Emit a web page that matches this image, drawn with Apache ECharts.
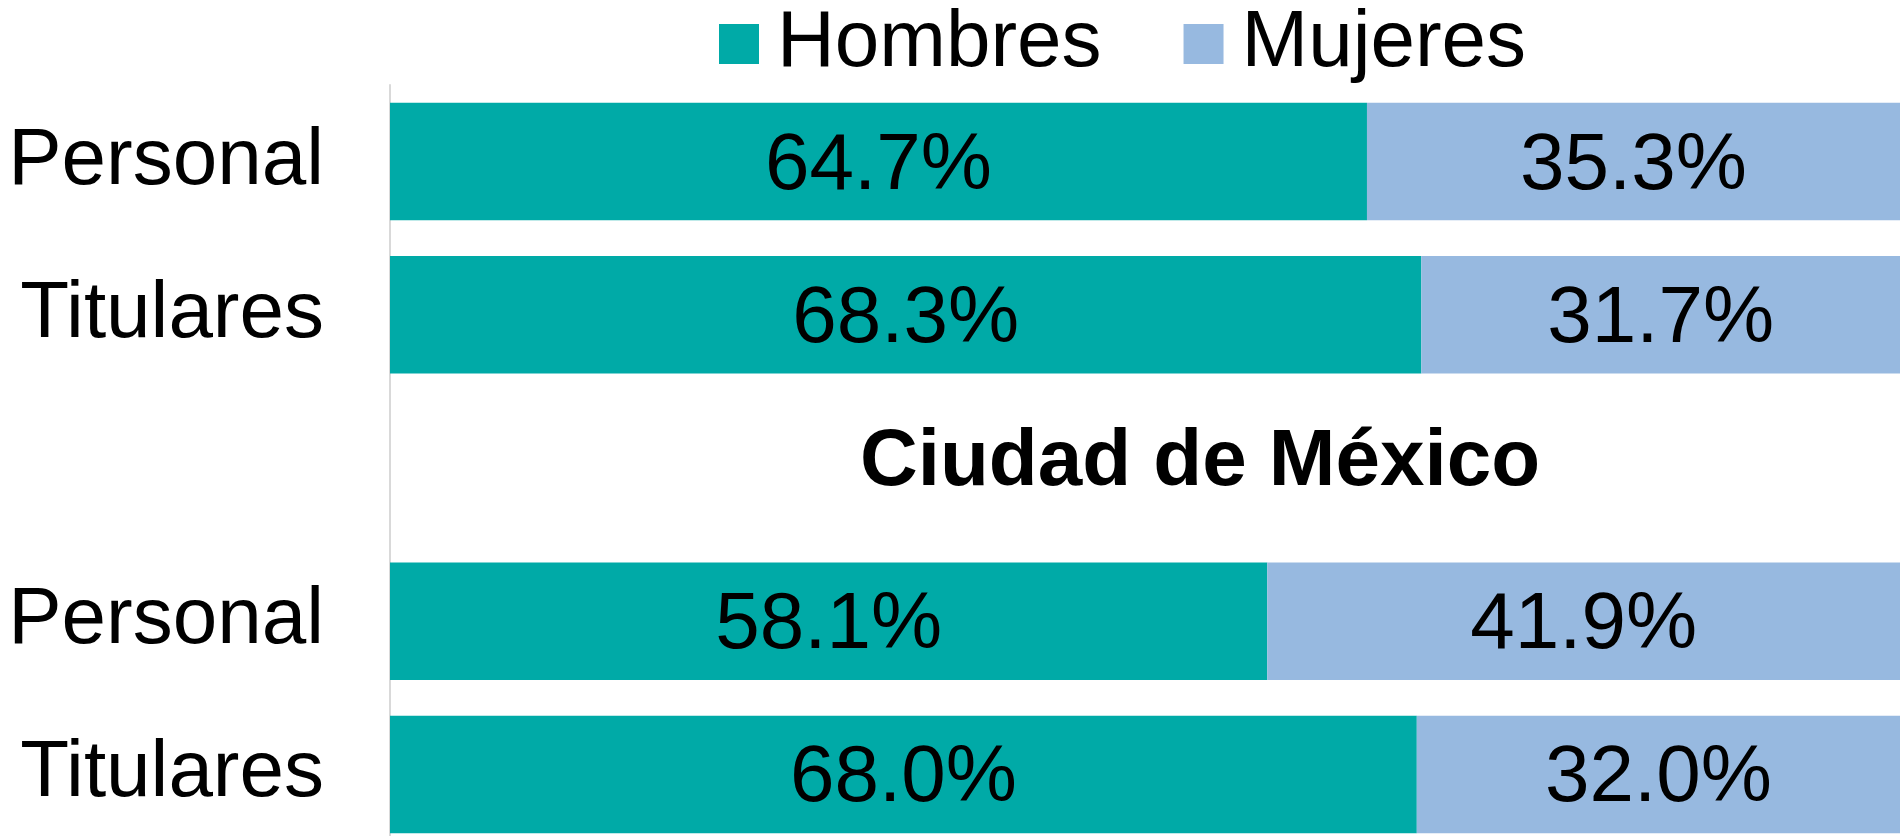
<!DOCTYPE html>
<html>
<head>
<meta charset="utf-8">
<script src="https://cdn.jsdelivr.net/npm/echarts@6/dist/echarts.min.js"></script>
<style>
  html, body { margin: 0; padding: 0; background: #fff; }
  #chart { width: 1900px; height: 836px; }
</style>
</head>
<body>
<div id="chart"></div>
<script>
// categorias (la fila vacia deja sitio al subtitulo)
const categories = ['Personal', 'Titulares', '', 'Personal', 'Titulares']
const hombres = [64.7, 68.3, null, 58.1, 68.0]
const mujeres = [35.3, 31.7, null, 41.9, 32.0]
const subtitle = 'Ciudad de México'

const fontFamily = 'Arial, "Liberation Sans", sans-serif'

const chart = echarts.init(document.getElementById('chart'))

const barLabel = {
  show: true,
  position: 'inside',
  color: '#000',
  fontSize: 80,
  fontFamily: fontFamily,
  offset: [0, 5],
  formatter: p => p.value.toFixed(1) + '%'
}

chart.setOption({
  backgroundColor: '#fff',
  animation: false,
  legend: {
    top: -1,
    left: 714,
    icon: 'rect',
    itemWidth: 40,
    itemHeight: 40,
    itemGap: 82,
    textStyle: {
      color: '#000',
      fontSize: 80,
      fontFamily: fontFamily,
      padding: [0, 0, 0, 13]
    },
    data: ['Hombres', 'Mujeres']
  },
  grid: {
    left: 390,
    right: 0,
    top: 85,
    height: 766,
    outerBoundsMode: 'none'
  },
  xAxis: {
    type: 'value',
    min: 0,
    max: 100,
    show: false
  },
  yAxis: {
    type: 'category',
    inverse: true,
    data: categories,
    axisTick: { show: false },
    axisLine: {
      lineStyle: { color: '#d9d9d9', width: 2 }
    },
    axisLabel: {
      color: '#000',
      fontSize: 80,
      fontFamily: fontFamily,
      margin: 66,
      padding: [8, 0, 0, 0]
    }
  },
  graphic: [
    {
      type: 'text',
      x: 1200,
      y: 463,
      style: {
        text: subtitle,
        align: 'center',
        verticalAlign: 'middle',
        fill: '#000',
        font: 'bold 80px ' + fontFamily
      }
    }
  ],
  series: [
    {
      name: 'Hombres',
      type: 'bar',
      stack: 'total',
      data: hombres,
      barCategoryGap: '23.3%',
      itemStyle: { color: '#00aaa7' },
      label: barLabel
    },
    {
      name: 'Mujeres',
      type: 'bar',
      stack: 'total',
      data: mujeres,
      barCategoryGap: '23.3%',
      itemStyle: { color: '#97b9e0' },
      label: barLabel
    }
  ]
})
</script>
</body>
</html>
